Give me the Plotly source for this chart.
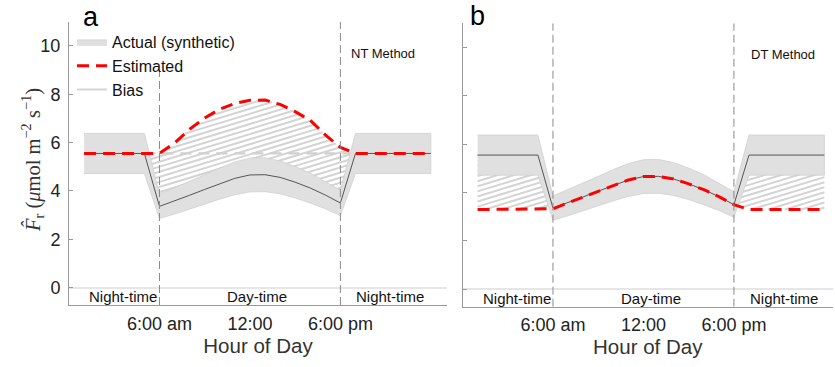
import numpy as np
import plotly.graph_objects as go

# ---------------- data ----------------
hours = [1, 5, 6, 7, 8, 9, 10, 11, 12, 13, 14, 15, 16, 17, 18, 19, 24]
actual = [5.55, 5.55, 3.36, 3.58, 3.82, 4.06, 4.30, 4.52, 4.66, 4.67, 4.56, 4.36, 4.12, 3.83, 3.50, 5.55, 5.55]
actual_upper = [6.38, 6.38, 3.86, 4.12, 4.39, 4.67, 4.95, 5.20, 5.36, 5.37, 5.24, 5.01, 4.74, 4.40, 4.03, 6.38, 6.38]
actual_lower = [4.72, 4.72, 2.86, 3.04, 3.25, 3.45, 3.66, 3.84, 3.96, 3.97, 3.88, 3.71, 3.50, 3.26, 2.98, 4.72, 4.72]
est_nt = [5.55, 5.55, 5.55, 5.98, 6.55, 7.02, 7.38, 7.62, 7.75, 7.76, 7.58, 7.28, 6.92, 6.32, 5.80, 5.55, 5.55]
est_dt = [3.30, 3.30, 3.33, 3.58, 3.82, 4.06, 4.30, 4.52, 4.66, 4.67, 4.56, 4.36, 4.12, 3.83, 3.50, 3.30, 3.30]

tick_vals = [6, 12, 18]
tick_text = ["6:00 am", "12:00", "6:00 pm"]
y_ticks = [0, 2, 4, 6, 8, 10]
period_labels = ["Night-time", "Day-time", "Night-time"]
period_x = [3.6, 12.5, 21.3]
day_bounds = [6, 18]

# ---------------- style ----------------
SANS = "Liberation Sans, Arial, Helvetica, sans-serif"
SERIF = "Liberation Serif, Times New Roman, serif"
Y_MIN, Y_MAX = -0.72, 11.0
BAND = "#e0e0e0"
HATCH = "#d4d4d4"
AXC = "#9a9a9a"


def hatch_xy(xs, a, b, slope=0.19, spacing=0.21):
    xf = np.linspace(xs[0], xs[-1], 6000)
    ya = np.interp(xf, xs, a)
    yb = np.interp(xf, xs, b)
    lo = np.minimum(ya, yb)
    hi = np.maximum(ya, yb)
    X, Y = [], []
    for c in np.arange(-10, 14, spacing):
        y = c + slope * xf
        m = (y >= lo) & (y <= hi) & (hi - lo > 1e-6)
        d = np.flatnonzero(np.diff(np.concatenate([[0], m.astype(int), [0]])))
        for s, e in zip(d[::2], d[1::2]):
            if e - 1 > s:
                X += [float(xf[s]), float(xf[e - 1]), None]
                Y += [float(y[s]), float(y[e - 1]), None]
    return X, Y


fig = go.Figure()


def add_panel(est, xa, ya, legend, ref_level=False):
    hx, hy = hatch_xy(hours, est, actual)
    fig.add_trace(go.Scatter(x=hx, y=hy, mode="lines", xaxis=xa, yaxis=ya,
                             line=dict(color=HATCH, width=2), name="Bias",
                             showlegend=legend, legendrank=3, hoverinfo="skip"))
    if ref_level:
        # night-time actual level continued through the day (NT method assumption)
        fig.add_trace(go.Scatter(x=[hours[1], hours[-2]], y=[actual[0], actual[0]], mode="lines",
                                 xaxis=xa, yaxis=ya,
                                 line=dict(color="#d0d0d0", width=2.2, dash="11px,7px"),
                                 showlegend=False, hoverinfo="skip"))
    fig.add_trace(go.Scatter(x=hours + hours[::-1], y=actual_upper + actual_lower[::-1],
                             fill="toself", fillcolor=BAND, mode="lines",
                             line=dict(color="#d0d0d0", width=0.8), xaxis=xa, yaxis=ya,
                             name="Actual (synthetic)", showlegend=legend, legendrank=1))
    fig.add_trace(go.Scatter(x=hours, y=actual, mode="lines", xaxis=xa, yaxis=ya,
                             line=dict(color="#555555", width=1), showlegend=False))
    fig.add_trace(go.Scatter(x=hours, y=est, mode="lines", xaxis=xa, yaxis=ya,
                             line=dict(color="#ff0000", width=3, dash="12px,7px"),
                             name="Estimated", showlegend=legend, legendrank=2))


add_panel(est_nt, "x", "y", True, ref_level=True)
add_panel(est_dt, "x2", "y2", False)

# day / night boundaries
shapes = []
for i, xb in enumerate(day_bounds):
    shapes.append(dict(type="line", xref="x", yref="y", x0=xb, x1=xb, y0=Y_MIN,
                       y1=(9.0 if i == 0 else Y_MAX), line=dict(color="#8a8a8a", width=1, dash="8px,4px")))
    shapes.append(dict(type="line", xref="x2", yref="y2", x0=xb, x1=xb, y0=Y_MIN, y1=Y_MAX,
                       line=dict(color="#8a8a8a", width=1, dash="8px,4px")))

annotations = []
for xr, yr in (("x", "y"), ("x2", "y2")):
    for lab, px in zip(period_labels, period_x):
        annotations.append(dict(x=px, y=-0.37, xref=xr, yref=yr, text=lab, showarrow=False,
                                xanchor="center", yanchor="middle",
                                font=dict(family=SANS, size=15, color="#111")))
annotations += [
    dict(x=20.8, y=9.7, xref="x", yref="y", text="NT Method", showarrow=False,
         xanchor="center", yanchor="middle", font=dict(family=SANS, size=13, color="#111")),
    dict(x=21.25, y=9.7, xref="x2", yref="y2", text="DT Method", showarrow=False,
         xanchor="center", yanchor="middle", font=dict(family=SANS, size=13, color="#111")),
    dict(x=91 / 835, y=1 - 17 / 367, xref="paper", yref="paper", text="a", showarrow=False,
         xanchor="center", yanchor="middle", font=dict(family=SANS, size=27, color="#000")),
    dict(x=477 / 835, y=1 - 16 / 367, xref="paper", yref="paper", text="b", showarrow=False,
         xanchor="center", yanchor="middle", font=dict(family=SANS, size=27, color="#000")),
    dict(x=32 / 835, y=1 - 160 / 367, xref="paper", yref="paper", textangle=-90, showarrow=False,
         xanchor="center", yanchor="middle",
         text="<i>F\u0302</i><sub>r</sub> (<i>\u03bc</i>mol m<sup>\u22122</sup> s<sup>\u22121</sup>)",
         font=dict(family=SERIF, size=20.5, color="#333")),
]

xcommon = dict(tickvals=tick_vals, ticktext=tick_text, showgrid=False, zeroline=False,
               showline=True, linecolor=AXC, linewidth=1, ticks="", automargin=False,
               tickfont=dict(family=SANS, size=18, color="#222"), ticklabelstandoff=2,
               title=dict(text="Hour of Day", font=dict(family=SANS, size=20.5, color="#333"), standoff=3))
ycommon = dict(range=[Y_MIN, Y_MAX], tickvals=y_ticks, showgrid=False, zeroline=True,
               zerolinecolor="#e6e6e6", zerolinewidth=1.5, showline=True, linecolor=AXC,
               linewidth=1, ticks="inside", ticklen=4, tickcolor=AXC, automargin=False,
               tickfont=dict(family=SANS, size=18, color="#222"), ticklabelstandoff=4)

fig.update_layout(
    width=835, height=367, margin=dict(l=0, r=0, t=0, b=0, autoexpand=False),
    paper_bgcolor="white", plot_bgcolor="white",
    xaxis=dict(domain=[69 / 835, 447 / 835], range=[0, 25.07], anchor="y", **xcommon),
    xaxis2=dict(domain=[462.5 / 835, 833 / 835], range=[0, 24.57], anchor="y2", **xcommon),
    yaxis=dict(domain=[1 - 305 / 367, 1 - 21.7 / 367], anchor="x", **ycommon),
    yaxis2=dict(domain=[1 - 306.7 / 367, 1 - 23.3 / 367], anchor="x2", showticklabels=False, **ycommon),
    legend=dict(x=72 / 835, y=1 - 25 / 367, xanchor="left", yanchor="top",
                bgcolor="rgba(0,0,0,0)", font=dict(family=SANS, size=16, color="#111"),
                itemwidth=30, tracegroupgap=0),
    shapes=shapes, annotations=annotations, showlegend=True,
)

fig.write_html("out.html", config={"displayModeBar": False},
               post_script="document.body.style.margin='0px';")
